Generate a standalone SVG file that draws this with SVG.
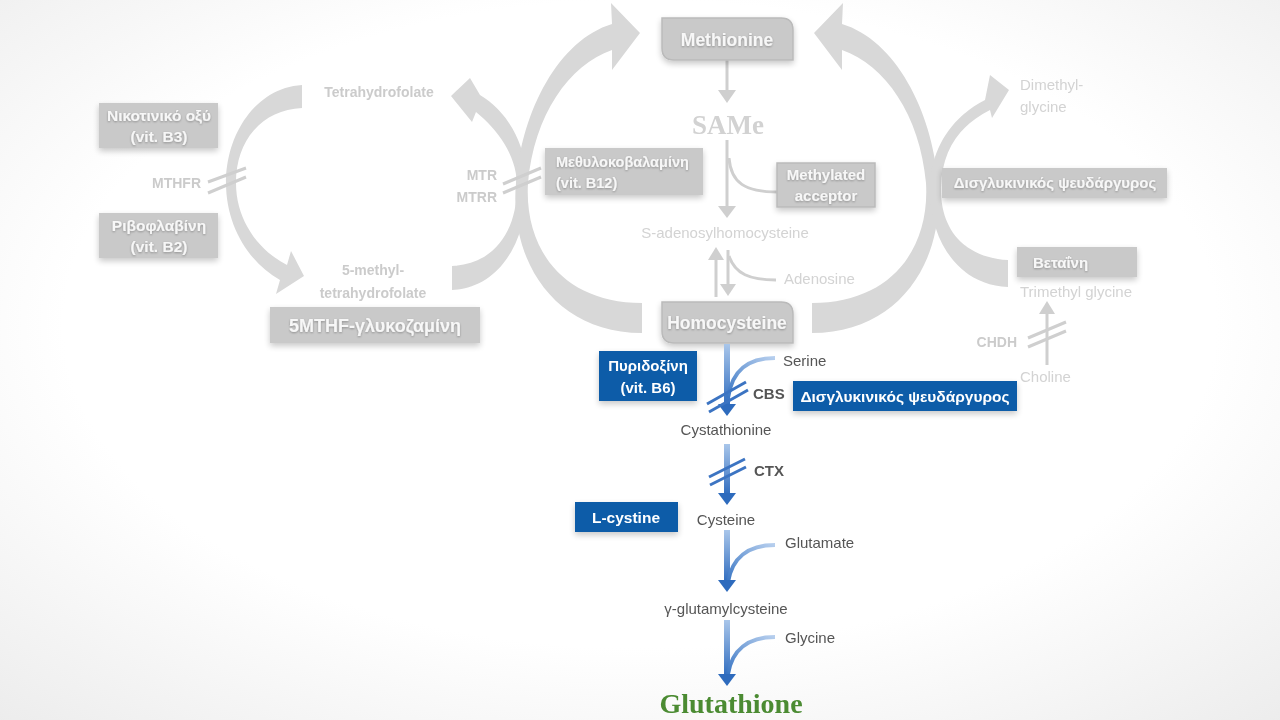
<svg xmlns="http://www.w3.org/2000/svg" width="1280" height="720" viewBox="0 0 1280 720">
<defs>
  <radialGradient id="bg" cx="50%" cy="45%" r="75%">
    <stop offset="0.6" stop-color="#ffffff"/>
    <stop offset="1" stop-color="#ececec"/>
  </radialGradient>
  <linearGradient id="blueV" x1="0" y1="0" x2="0" y2="1">
    <stop offset="0" stop-color="#a9c6ea"/>
    <stop offset="1" stop-color="#2f6cbf"/>
  </linearGradient>
  <linearGradient id="blueC" x1="1" y1="0" x2="0" y2="1">
    <stop offset="0" stop-color="#b7cfee"/>
    <stop offset="1" stop-color="#3a76c4"/>
  </linearGradient>
  <filter id="soft" x="-10%" y="-10%" width="120%" height="120%">
    <feGaussianBlur stdDeviation="0.7"/>
  </filter>
  <filter id="shadow" x="-20%" y="-30%" width="140%" height="170%">
    <feGaussianBlur in="SourceAlpha" stdDeviation="3"/>
    <feOffset dx="0" dy="3" result="b"/>
    <feComponentTransfer><feFuncA type="linear" slope="0.22"/></feComponentTransfer>
    <feMerge><feMergeNode/><feMergeNode in="SourceGraphic"/></feMerge>
  </filter>
  <filter id="tshadow" x="-10%" y="-20%" width="120%" height="150%">
    <feGaussianBlur in="SourceAlpha" stdDeviation="0.8"/>
    <feOffset dx="0" dy="1" result="b"/>
    <feComponentTransfer><feFuncA type="linear" slope="0.3"/></feComponentTransfer>
    <feMerge><feMergeNode/><feMergeNode in="SourceGraphic"/></feMerge>
  </filter>
  <style>
    .arc{fill:#d8d8d8}
    .gbox{fill:#c9c9c9}
    .gboxs{fill:#c9c9c9;stroke:#bababa;stroke-width:1.5}
    .gbt{font-family:"Liberation Sans",Arial,sans-serif;font-weight:bold;fill:#f7f7f7;text-anchor:middle}
    .glab{font-family:"Liberation Sans",Arial,sans-serif;font-weight:bold;fill:#cbcbcb;font-size:14px}
    .glight{font-family:"Liberation Sans",Arial,sans-serif;fill:#d3d3d3;font-size:15px}
    .gline{stroke:#cfcfcf;stroke-width:3;fill:none}
    .ghead{fill:#cfcfcf}
    .bline{fill:url(#blueV)}
    .bcurve{stroke:url(#blueC);stroke-width:4;fill:none}
    .bhead{fill:#2e6bbd}
    .bmark{stroke:#3c74c2;stroke-width:3;fill:none}
    .bbox{fill:#0d5ca8}
    .bbt{font-family:"Liberation Sans",Arial,sans-serif;font-weight:bold;fill:#ffffff;text-anchor:middle}
    .dlab{font-family:"Liberation Sans",Arial,sans-serif;fill:#555555;font-size:15px}
    .dlabb{font-family:"Liberation Sans",Arial,sans-serif;fill:#555555;font-size:15px;font-weight:bold}
  </style>
</defs>
<rect width="1280" height="720" fill="url(#bg)"/>

<!-- faded gray part -->
<g id="faded" filter="url(#soft)">
  <g id="connectors-gray">
    <path class="arc" d="M 302,85 C 255,88 226,135 226,183 C 226,225 248,262 280,280 L 276,294 L 304,276 L 291,251 L 287,265 C 258,250 236,220 236,183 C 236,140 262,110 302,108 Z"/>
    <path class="arc" d="M 452,290 C 500,288 528,240 527,183 C 526,140 505,110 480,95 L 470,78 L 451,96 L 472,122 L 476,112 C 498,130 516,155 517,183 C 518,230 495,264 452,266 Z"/>
    <path class="arc" d="M 642,333 C 554,333 509,260 516,183 C 522,110 559,40 612,24 L 611,3 L 640,33 L 612,70 L 612,50 C 569,65 534,115 528,183 C 524,250 564,303 642,303 Z"/>
    <path class="arc" d="M 812,333 C 900,333 945,260 938,183 C 932,110 895,40 842,24 L 843,3 L 814,33 L 842,70 L 842,50 C 885,65 920,115 926,183 C 930,250 890,303 812,303 Z"/>
    <path class="arc" d="M 1008,287 C 958,285 929,240 930,187 C 931,145 955,115 985,100 L 990,75 L 1009,90 L 992,118 L 990,110 C 960,125 942,150 941,187 C 940,230 965,258 1008,260 Z"/>

    <path class="gline" d="M 208,182 L 246,168 M 208,193 L 246,177"/>
    <path class="gline" d="M 503,184 L 541,168 M 503,193 L 541,177"/>
    <path class="gline" d="M 1028,338 L 1066,322 M 1028,347 L 1066,331"/>

    <line class="gline" x1="727" y1="60" x2="727" y2="92"/>
    <polygon class="ghead" points="718,90 736,90 727,103"/>
    <line class="gline" x1="727" y1="140" x2="727" y2="208"/>
    <polygon class="ghead" points="718,206 736,206 727,218"/>
    <path class="gline" d="M 729,158 C 731,183 745,192 778,192"/>
    <line class="gline" x1="716" y1="297" x2="716" y2="258"/>
    <polygon class="ghead" points="708,260 724,260 716,247"/>
    <line class="gline" x1="728" y1="250" x2="728" y2="286"/>
    <polygon class="ghead" points="720,284 736,284 728,296"/>
    <path class="gline" d="M 729,256 C 735,274 750,280 776,280"/>
    <line class="gline" x1="1047" y1="365" x2="1047" y2="312"/>
    <polygon class="ghead" points="1039,314 1055,314 1047,301"/>
  </g>

  <g id="node-b3" filter="url(#shadow)">
    <rect class="gbox" x="99" y="103" width="119" height="45"/>
    <text class="gbt" x="159" y="121" font-size="15.5" filter="url(#tshadow)">Νικοτινικό οξύ</text>
    <text class="gbt" x="159" y="142" font-size="15.5" filter="url(#tshadow)">(vit. B3)</text>
  </g>
  <g id="node-mthfr"><text class="glab" x="201" y="188" text-anchor="end">MTHFR</text></g>
  <g id="node-b2" filter="url(#shadow)">
    <rect class="gbox" x="99" y="213" width="119" height="45"/>
    <text class="gbt" x="159" y="231" font-size="15.5" filter="url(#tshadow)">Ριβοφλαβίνη</text>
    <text class="gbt" x="159" y="252" font-size="15.5" filter="url(#tshadow)">(vit. B2)</text>
  </g>
  <g id="node-thf"><text class="glab" x="379" y="97" text-anchor="middle" font-size="15">Tetrahydrofolate</text></g>
  <g id="node-5mthf">
    <text class="glab" x="373" y="275" text-anchor="middle" font-size="15">5-methyl-</text>
    <text class="glab" x="373" y="298" text-anchor="middle" font-size="15">tetrahydrofolate</text>
  </g>
  <g id="node-5mthf-glu" filter="url(#shadow)">
    <rect class="gbox" x="270" y="307" width="210" height="36"/>
    <text class="gbt" x="375" y="332" font-size="18" filter="url(#tshadow)">5MTHF-γλυκοζαμίνη</text>
  </g>
  <g id="node-mtr">
    <text class="glab" x="497" y="180" text-anchor="end">MTR</text>
    <text class="glab" x="497" y="202" text-anchor="end">MTRR</text>
  </g>
  <g id="node-b12" filter="url(#shadow)">
    <rect class="gbox" x="545" y="148" width="158" height="47"/>
    <text class="gbt" x="556" y="167" font-size="14.5" style="text-anchor:start" filter="url(#tshadow)">Μεθυλοκοβαλαμίνη</text>
    <text class="gbt" x="556" y="188" font-size="14.5" style="text-anchor:start" filter="url(#tshadow)">(vit. B12)</text>
  </g>
  <g id="node-methionine" filter="url(#shadow)">
    <path class="gboxs" d="M 662,18 L 781,18 Q 793,18 793,30 L 793,60 L 674,60 Q 662,60 662,48 Z"/>
    <text class="gbt" x="727" y="46" font-size="17.5" filter="url(#tshadow)">Methionine</text>
  </g>
  <g id="node-same">
    <text x="728" y="134" text-anchor="middle" font-family="Liberation Serif,Times New Roman,serif" font-weight="bold" font-size="27" fill="#d2d2d2">SAMe</text>
  </g>
  <g id="node-methylated" filter="url(#shadow)">
    <rect class="gboxs" x="777" y="163" width="98" height="44"/>
    <text class="gbt" x="826" y="180" font-size="15" filter="url(#tshadow)">Methylated</text>
    <text class="gbt" x="826" y="201" font-size="15" filter="url(#tshadow)">acceptor</text>
  </g>
  <g id="node-sah"><text class="glight" x="725" y="238" text-anchor="middle">S-adenosylhomocysteine</text></g>
  <g id="node-adenosine"><text class="glight" x="784" y="284">Adenosine</text></g>
  <g id="node-homocysteine" filter="url(#shadow)">
    <path class="gboxs" d="M 662,302 L 781,302 Q 793,302 793,314 L 793,343 L 674,343 Q 662,343 662,331 Z"/>
    <text class="gbt" x="727" y="329" font-size="17.5" filter="url(#tshadow)">Homocysteine</text>
  </g>
  <g id="node-dmg">
    <text class="glight" x="1020" y="90">Dimethyl-</text>
    <text class="glight" x="1020" y="112">glycine</text>
  </g>
  <g id="node-zinc-gray" filter="url(#shadow)">
    <rect class="gbox" x="942" y="168" width="225" height="30"/>
    <text class="gbt" x="1055" y="188" font-size="15" filter="url(#tshadow)">Δισγλυκινικός ψευδάργυρος</text>
  </g>
  <g id="node-betaine" filter="url(#shadow)">
    <rect class="gbox" x="1017" y="247" width="120" height="30"/>
    <text class="gbt" x="1033" y="268" font-size="15" style="text-anchor:start" filter="url(#tshadow)">Βεταΐνη</text>
  </g>
  <g id="node-tmg"><text class="glight" x="1020" y="297">Trimethyl glycine</text></g>
  <g id="node-chdh"><text class="glab" x="1017" y="347" text-anchor="end">CHDH</text></g>
  <g id="node-choline"><text class="glight" x="1020" y="382">Choline</text></g>
</g>

<!-- blue transsulfuration part -->
<g id="connectors-blue">
  <rect class="bline" x="724" y="344" width="6" height="62"/>
  <path class="bcurve" d="M 775,358 C 748,358 732,370 728,398"/>
  <polygon class="bhead" points="718,404 736,404 727,416"/>
  <path class="bmark" d="M 707,404 L 746,382 M 709,412 L 748,390"/>

  <rect class="bline" x="724" y="444" width="6" height="51"/>
  <polygon class="bhead" points="718,493 736,493 727,505"/>
  <path class="bmark" d="M 709,477 L 745,459 M 710,485 L 746,467"/>

  <rect class="bline" x="724" y="530" width="6" height="52"/>
  <path class="bcurve" d="M 775,545 C 748,545 732,558 728,582"/>
  <polygon class="bhead" points="718,580 736,580 727,592"/>

  <rect class="bline" x="724" y="620" width="6" height="56"/>
  <path class="bcurve" d="M 775,637 C 748,637 732,650 728,674"/>
  <polygon class="bhead" points="718,674 736,674 727,686"/>
</g>

<g id="node-b6" filter="url(#shadow)">
  <rect class="bbox" x="599" y="351" width="98" height="50"/>
  <text class="bbt" x="648" y="371" font-size="15">Πυριδοξίνη</text>
  <text class="bbt" x="648" y="393" font-size="15">(vit. B6)</text>
</g>
<g id="node-serine"><text class="dlab" x="783" y="366">Serine</text></g>
<g id="node-cbs"><text class="dlabb" x="753" y="399">CBS</text></g>
<g id="node-zinc-blue" filter="url(#shadow)">
  <rect class="bbox" x="793" y="381" width="224" height="30"/>
  <text class="bbt" x="905" y="402" font-size="15.5">Δισγλυκινικός ψευδάργυρος</text>
</g>
<g id="node-cystathionine"><text class="dlab" x="726" y="435" text-anchor="middle">Cystathionine</text></g>
<g id="node-ctx"><text class="dlabb" x="754" y="476">CTX</text></g>
<g id="node-lcystine" filter="url(#shadow)">
  <rect class="bbox" x="575" y="502" width="103" height="30"/>
  <text class="bbt" x="626" y="523" font-size="15.5">L-cystine</text>
</g>
<g id="node-cysteine"><text class="dlab" x="726" y="525" text-anchor="middle">Cysteine</text></g>
<g id="node-glutamate"><text class="dlab" x="785" y="548">Glutamate</text></g>
<g id="node-ggc"><text class="dlab" x="726" y="614" text-anchor="middle">γ-glutamylcysteine</text></g>
<g id="node-glycine"><text class="dlab" x="785" y="643">Glycine</text></g>
<g id="node-gsh"><text x="731" y="713" text-anchor="middle" font-family="Liberation Serif,Times New Roman,serif" font-weight="bold" font-size="28" fill="#4b8b32">Glutathione</text></g>
</svg>
